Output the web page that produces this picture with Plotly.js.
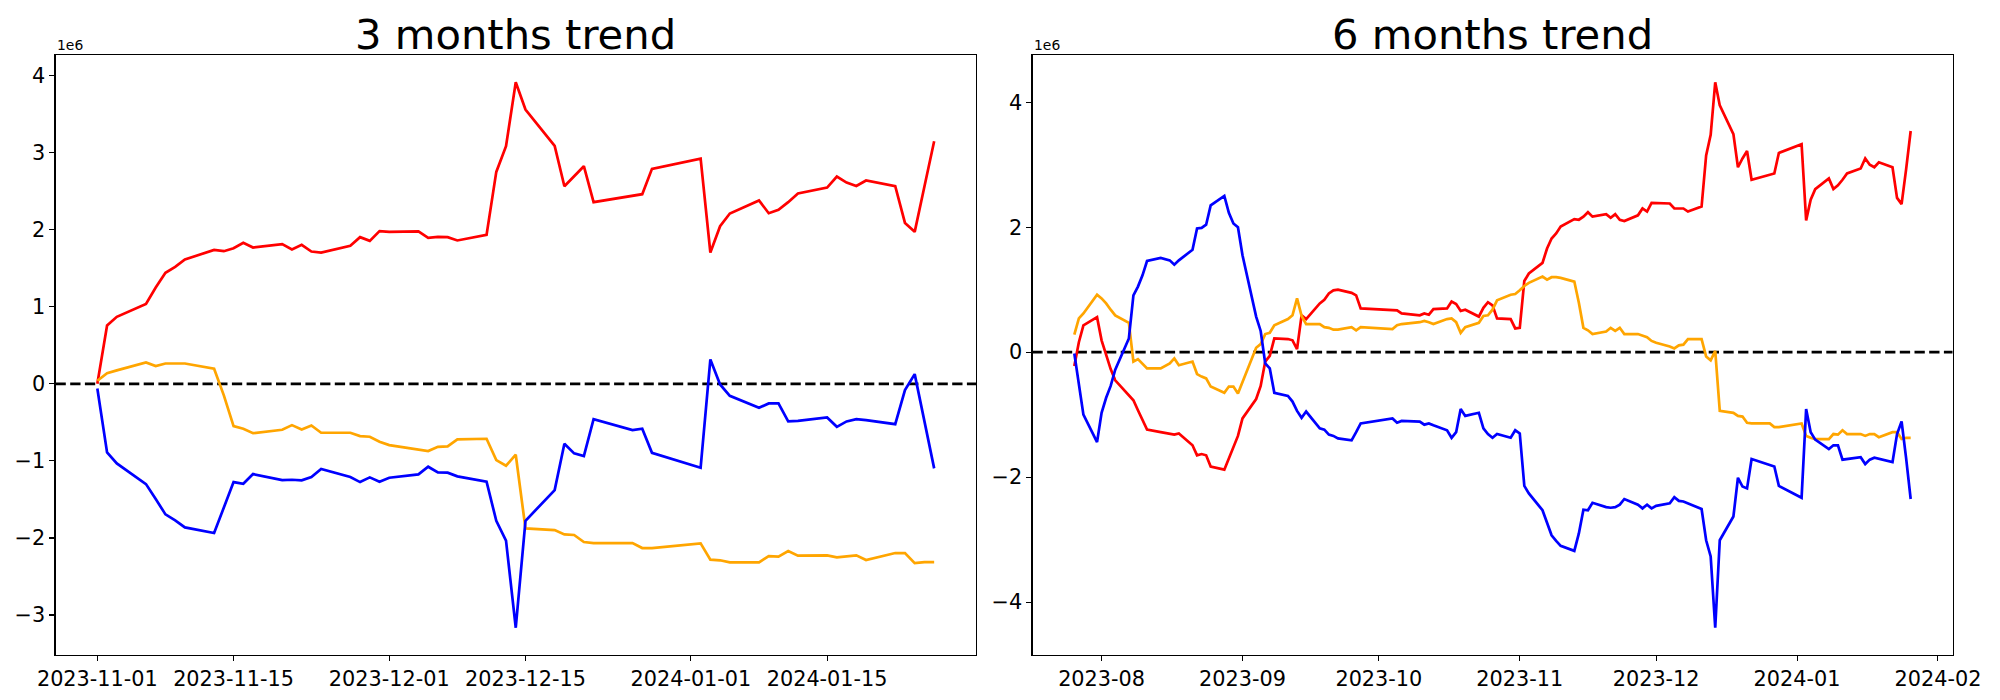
<!DOCTYPE html>
<html>
<head>
<meta charset="utf-8">
<script src="https://cdn.plot.ly/plotly-3.0.1.min.js"></script>
<style>html,body{margin:0;padding:0;background:#fff;}#chart{width:2000px;height:700px;}</style>
</head>
<body>
<div id="chart"></div>
<script>
// ---- 3 months data (values in units of 1e6) ----
const dates3 = [
  '2023-11-01','2023-11-02','2023-11-03','2023-11-06','2023-11-07','2023-11-08','2023-11-09','2023-11-10',
  '2023-11-13','2023-11-14','2023-11-15','2023-11-16','2023-11-17','2023-11-20','2023-11-21','2023-11-22',
  '2023-11-23','2023-11-24','2023-11-27','2023-11-28','2023-11-29','2023-11-30',
  '2023-12-01','2023-12-04','2023-12-05','2023-12-06','2023-12-07','2023-12-08','2023-12-11','2023-12-12',
  '2023-12-13','2023-12-14','2023-12-15','2023-12-18','2023-12-19','2023-12-20','2023-12-21','2023-12-22',
  '2023-12-26','2023-12-27','2023-12-28',
  '2024-01-02','2024-01-03','2024-01-04','2024-01-05','2024-01-08','2024-01-09','2024-01-10','2024-01-11',
  '2024-01-12','2024-01-15','2024-01-16','2024-01-17','2024-01-18','2024-01-19','2024-01-22','2024-01-23',
  '2024-01-24','2024-01-25','2024-01-26'
];
const red3 = [
  0.0, 0.757, 0.869, 1.037, 1.25, 1.44, 1.518, 1.613, 1.738, 1.721, 1.76, 1.829, 1.769, 1.812, 1.743, 1.803,
  1.717, 1.704, 1.79, 1.903, 1.855, 1.981,
  1.972, 1.977, 1.894, 1.906, 1.903, 1.86, 1.933, 2.75, 3.083, 3.913, 3.559, 3.087, 2.564, 2.69, 2.824, 2.357,
  2.44, 2.461, 2.79,
  2.923, 1.704, 2.045, 2.21, 2.379, 2.214, 2.257, 2.357, 2.47, 2.547, 2.69, 2.612, 2.568, 2.638, 2.564, 2.088,
  1.972, 2.56, 3.148
];
const orange3 = [
  0.04, 0.139, 0.175, 0.277, 0.23, 0.264, 0.264, 0.264, 0.195, -0.15, -0.549, -0.583, -0.64, -0.596, -0.536, -0.592,
  -0.54, -0.635, -0.635, -0.678, -0.687, -0.752,
  -0.795, -0.847, -0.873, -0.817, -0.812, -0.721, -0.713, -0.99, -1.063, -0.92, -1.876, -1.898, -1.954, -1.962,
  -2.053, -2.066, -2.066, -2.131, -2.131,
  -2.07, -2.282, -2.29, -2.317, -2.317, -2.235, -2.243, -2.17, -2.23, -2.226, -2.252, -2.235, -2.226, -2.287,
  -2.196, -2.196, -2.326, -2.313, -2.313
];
const blue3 = [
  -0.06, -0.89, -1.033, -1.301, -1.495, -1.694, -1.772, -1.863, -1.936, -1.603, -1.275, -1.297, -1.171, -1.249,
  -1.245, -1.253, -1.21, -1.106, -1.21, -1.275, -1.214, -1.271,
  -1.219, -1.175, -1.076, -1.149, -1.153, -1.201, -1.271, -1.777, -2.036, -3.165, -1.777, -1.379, -0.778, -0.903,
  -0.938, -0.458, -0.6, -0.583, -0.895,
  -1.089, 0.316, -0.008, -0.155, -0.311, -0.255, -0.255, -0.488, -0.48, -0.436, -0.558, -0.488, -0.458, -0.471,
  -0.523, -0.082, 0.126, -0.486, -1.097
];

// ---- 6 months data (values in units of 1e6) ----
const dates6 = [
  '2023-07-26','2023-07-27','2023-07-28','2023-07-31',
  '2023-08-01','2023-08-02','2023-08-03','2023-08-04','2023-08-07','2023-08-08','2023-08-09','2023-08-10',
  '2023-08-11','2023-08-14','2023-08-16','2023-08-17','2023-08-18','2023-08-21','2023-08-22','2023-08-23',
  '2023-08-24','2023-08-25','2023-08-28','2023-08-29','2023-08-30','2023-08-31',
  '2023-09-01','2023-09-04','2023-09-05','2023-09-06','2023-09-07','2023-09-08','2023-09-11','2023-09-12',
  '2023-09-13','2023-09-14','2023-09-15','2023-09-18','2023-09-19','2023-09-20','2023-09-21','2023-09-22',
  '2023-09-25','2023-09-26','2023-09-27',
  '2023-10-04','2023-10-05','2023-10-06','2023-10-10','2023-10-11','2023-10-12','2023-10-13','2023-10-16',
  '2023-10-17','2023-10-18','2023-10-19','2023-10-20','2023-10-23','2023-10-24','2023-10-25','2023-10-26',
  '2023-10-27','2023-10-30','2023-10-31',
  '2023-11-01','2023-11-02','2023-11-03','2023-11-06','2023-11-07','2023-11-08','2023-11-09','2023-11-10',
  '2023-11-13','2023-11-14','2023-11-15','2023-11-16','2023-11-17','2023-11-20','2023-11-21','2023-11-22',
  '2023-11-23','2023-11-24','2023-11-27','2023-11-28','2023-11-29','2023-11-30',
  '2023-12-01','2023-12-04','2023-12-05','2023-12-06','2023-12-07','2023-12-08','2023-12-11','2023-12-12',
  '2023-12-13','2023-12-14','2023-12-15','2023-12-18','2023-12-19','2023-12-20','2023-12-21','2023-12-22',
  '2023-12-26','2023-12-27','2023-12-28',
  '2024-01-02','2024-01-03','2024-01-04','2024-01-05','2024-01-08','2024-01-09','2024-01-10','2024-01-11',
  '2024-01-12','2024-01-15','2024-01-16','2024-01-17','2024-01-18','2024-01-19','2024-01-22','2024-01-23',
  '2024-01-24','2024-01-25','2024-01-26'
];
const red6 = [
  -0.22, 0.16, 0.43, 0.56,
  0.19, -0.06, -0.27, -0.45, -0.70, -0.77, -0.93, -1.10, -1.24, -1.28, -1.31, -1.32, -1.30, -1.49, -1.65, -1.63,
  -1.65, -1.83, -1.88, -1.71, -1.52, -1.34,
  -1.06, -0.75, -0.54, -0.15, -0.06, 0.22, 0.21, 0.19, 0.05, 0.59, 0.53, 0.78, 0.84, 0.94, 0.99, 1.00, 0.95, 0.91, 0.70,
  0.68, 0.67, 0.62, 0.59, 0.62, 0.60, 0.69, 0.70, 0.81, 0.77, 0.66, 0.68, 0.57, 0.71, 0.80, 0.75, 0.54, 0.53, 0.38,
  0.39, 1.14, 1.26, 1.43, 1.66, 1.82, 1.90, 2.01, 2.13, 2.12, 2.17, 2.24, 2.17, 2.21, 2.15, 2.21, 2.12, 2.10, 2.19,
  2.30, 2.25, 2.39,
  2.39, 2.38, 2.30, 2.30, 2.30, 2.25, 2.33, 3.15, 3.48, 4.32, 3.95, 3.49, 2.96, 3.10, 3.22, 2.76, 2.84, 2.86, 3.19,
  3.33, 2.11, 2.44, 2.61, 2.78, 2.61, 2.67, 2.76, 2.86, 2.94, 3.10, 3.00, 2.96, 3.04, 2.96, 2.47, 2.37, 2.93, 3.54
];
const orange6 = [
  0.28, 0.54, 0.62, 0.92,
  0.86, 0.78, 0.68, 0.59, 0.47, -0.15, -0.11, -0.18, -0.26, -0.26, -0.18, -0.10, -0.21, -0.15, -0.35, -0.39,
  -0.42, -0.55, -0.65, -0.55, -0.55, -0.66,
  -0.48, 0.07, 0.13, 0.29, 0.31, 0.43, 0.53, 0.59, 0.86, 0.58, 0.45, 0.45, 0.40, 0.39, 0.36, 0.36, 0.40, 0.35, 0.40,
  0.37, 0.43, 0.45, 0.48, 0.50, 0.48, 0.45, 0.53, 0.54, 0.48, 0.31, 0.40, 0.47, 0.58, 0.59, 0.68, 0.83, 0.92, 0.93,
  0.99, 1.06, 1.11, 1.21, 1.16, 1.20, 1.20, 1.19, 1.13, 0.79, 0.39, 0.35, 0.29, 0.33, 0.39, 0.34, 0.39, 0.29, 0.29,
  0.26, 0.24, 0.18,
  0.15, 0.09, 0.06, 0.11, 0.12, 0.21, 0.21, -0.07, -0.13, 0.02, -0.94, -0.97, -1.02, -1.03, -1.13, -1.14, -1.14,
  -1.20, -1.20,
  -1.14, -1.34, -1.37, -1.39, -1.39, -1.31, -1.32, -1.25, -1.31, -1.31, -1.34, -1.31, -1.31, -1.36, -1.28, -1.28,
  -1.39, -1.37, -1.37
];
const blue6 = [
  -0.02, -0.54, -1.00, -1.44,
  -0.97, -0.73, -0.54, -0.28, 0.22, 0.91, 1.05, 1.23, 1.46, 1.51, 1.47, 1.40, 1.47, 1.64, 1.98, 1.99, 2.04, 2.35,
  2.50, 2.23, 2.06, 2.00,
  1.55, 0.57, 0.34, -0.18, -0.26, -0.65, -0.70, -0.79, -0.94, -1.05, -0.95, -1.22, -1.24, -1.32, -1.34, -1.38,
  -1.41, -1.28, -1.14,
  -1.06, -1.13, -1.10, -1.11, -1.16, -1.14, -1.17, -1.25, -1.37, -1.28, -0.91, -1.02, -0.97, -1.22, -1.31, -1.37,
  -1.31, -1.37, -1.25,
  -1.30, -2.14, -2.26, -2.53, -2.72, -2.93, -3.02, -3.10, -3.18, -2.90, -2.52, -2.53, -2.41, -2.48, -2.49, -2.48,
  -2.44, -2.35, -2.44, -2.50, -2.44, -2.50,
  -2.46, -2.42, -2.32, -2.38, -2.39, -2.42, -2.51, -3.01, -3.27, -4.41, -3.01, -2.63, -2.01, -2.15, -2.18, -1.71,
  -1.80, -1.83, -2.14,
  -2.33, -0.91, -1.28, -1.40, -1.55, -1.49, -1.49, -1.72, -1.71, -1.68, -1.79, -1.72, -1.69, -1.71, -1.76, -1.31,
  -1.11, -1.70, -2.35
];

// ---- ticks and labels ----
const titles = ['3 months trend', '6 months trend'];
const xTicks3 = ['2023-11-01','2023-11-15','2023-12-01','2023-12-15','2024-01-01','2024-01-15'];
const xTicks6 = ['2023-08-01','2023-09-01','2023-10-01','2023-11-01','2023-12-01','2024-01-01','2024-02-01'];
const xTickText6 = ['2023-08','2023-09','2023-10','2023-11','2023-12','2024-01','2024-02'];
const yTicks3 = [-3,-2,-1,0,1,2,3,4];
const yTicks6 = [-4,-2,0,2,4];
const scaleLabel = '1e6';

// ---- helpers ----
function padRange(arrs) {
  const all = [].concat(...arrs);
  const lo = Math.min(...all), hi = Math.max(...all), p = (hi - lo) * 0.05;
  return [lo - p, hi + p];
}
function fmt(ms) { return new Date(ms).toISOString().replace('T',' ').slice(0,19); }
function padDates(ds) {
  const t = ds.map(d => Date.parse(d + 'T00:00:00Z'));
  const lo = Math.min(...t), hi = Math.max(...t), p = (hi - lo) * 0.05;
  return [fmt(lo - p), fmt(hi + p)];
}
const minus = v => (v < 0 ? '\u2212' + Math.abs(v) : String(v));

const FONT = 'DejaVu Sans, Liberation Sans, sans-serif';
const COLORS = {red: '#ff0000', orange: '#ffa500', blue: '#0000ff'};

function line(x, y, color, xa, ya) {
  return {x: x, y: y, type: 'scatter', mode: 'lines', xaxis: xa, yaxis: ya,
          line: {color: color, width: 2.7}, hoverinfo: 'skip', showlegend: false};
}

const traces = [
  line(dates3, red3, COLORS.red, 'x', 'y'),
  line(dates3, orange3, COLORS.orange, 'x', 'y'),
  line(dates3, blue3, COLORS.blue, 'x', 'y'),
  line(dates6, red6, COLORS.red, 'x2', 'y2'),
  line(dates6, orange6, COLORS.orange, 'x2', 'y2'),
  line(dates6, blue6, COLORS.blue, 'x2', 'y2')
];

const axisCommon = {
  showline: true, mirror: true, linecolor: '#000', linewidth: 1.1,
  ticks: 'outside', ticklen: 5, tickwidth: 1.1, tickcolor: '#000',
  showgrid: false, zeroline: false,
  tickfont: {family: FONT, size: 20.8, color: '#000'}
};

const yDom = [45/700, 645/700];

const layout = {
  width: 2000, height: 700,
  margin: {l: 0, r: 0, t: 0, b: 0},
  paper_bgcolor: '#fff', plot_bgcolor: '#fff',
  showlegend: false,
  xaxis: Object.assign({}, axisCommon, {
    domain: [55.5/2000, 976/2000], type: 'date', range: padDates(dates3),
    tickmode: 'array', tickvals: xTicks3, ticktext: xTicks3, anchor: 'y'
  }),
  yaxis: Object.assign({}, axisCommon, {
    domain: yDom, range: padRange([red3, orange3, blue3]),
    tickmode: 'array', tickvals: yTicks3, ticktext: yTicks3.map(minus), anchor: 'x'
  }),
  xaxis2: Object.assign({}, axisCommon, {
    domain: [1032.5/2000, 1952.5/2000], type: 'date', range: padDates(dates6),
    tickmode: 'array', tickvals: xTicks6, ticktext: xTickText6, anchor: 'y2'
  }),
  yaxis2: Object.assign({}, axisCommon, {
    domain: yDom, range: padRange([red6, orange6, blue6]),
    tickmode: 'array', tickvals: yTicks6, ticktext: yTicks6.map(minus), anchor: 'x2'
  }),
  shapes: [
    {type: 'line', xref: 'x domain', yref: 'y', x0: 0, x1: 1, y0: 0, y1: 0, layer: 'below',
     line: {color: '#000', width: 2.7, dash: '10.3px,4.4px'}},
    {type: 'line', xref: 'x2 domain', yref: 'y2', x0: 0, x1: 1, y0: 0, y1: 0, layer: 'below',
     line: {color: '#000', width: 2.7, dash: '10.3px,4.4px'}}
  ],
  annotations: [
    {text: titles[0], xref: 'x domain', yref: 'y domain', x: 0.5, y: 1, xanchor: 'center', yanchor: 'bottom',
     yshift: -6, showarrow: false, font: {family: FONT, size: 41.7, color: '#000'}},
    {text: titles[1], xref: 'x2 domain', yref: 'y2 domain', x: 0.5, y: 1, xanchor: 'center', yanchor: 'bottom',
     yshift: -6, showarrow: false, font: {family: FONT, size: 41.7, color: '#000'}},
    {text: scaleLabel, xref: 'x domain', yref: 'y domain', x: 0, y: 1, xanchor: 'left', yanchor: 'bottom',
     yshift: 0, xshift: -1, showarrow: false, font: {family: FONT, size: 13.9, color: '#000'}},
    {text: scaleLabel, xref: 'x2 domain', yref: 'y2 domain', x: 0, y: 1, xanchor: 'left', yanchor: 'bottom',
     yshift: 0, xshift: -1, showarrow: false, font: {family: FONT, size: 13.9, color: '#000'}}
  ]
};

Plotly.newPlot('chart', traces, layout, {staticPlot: true, displayModeBar: false});
</script>
</body>
</html>
